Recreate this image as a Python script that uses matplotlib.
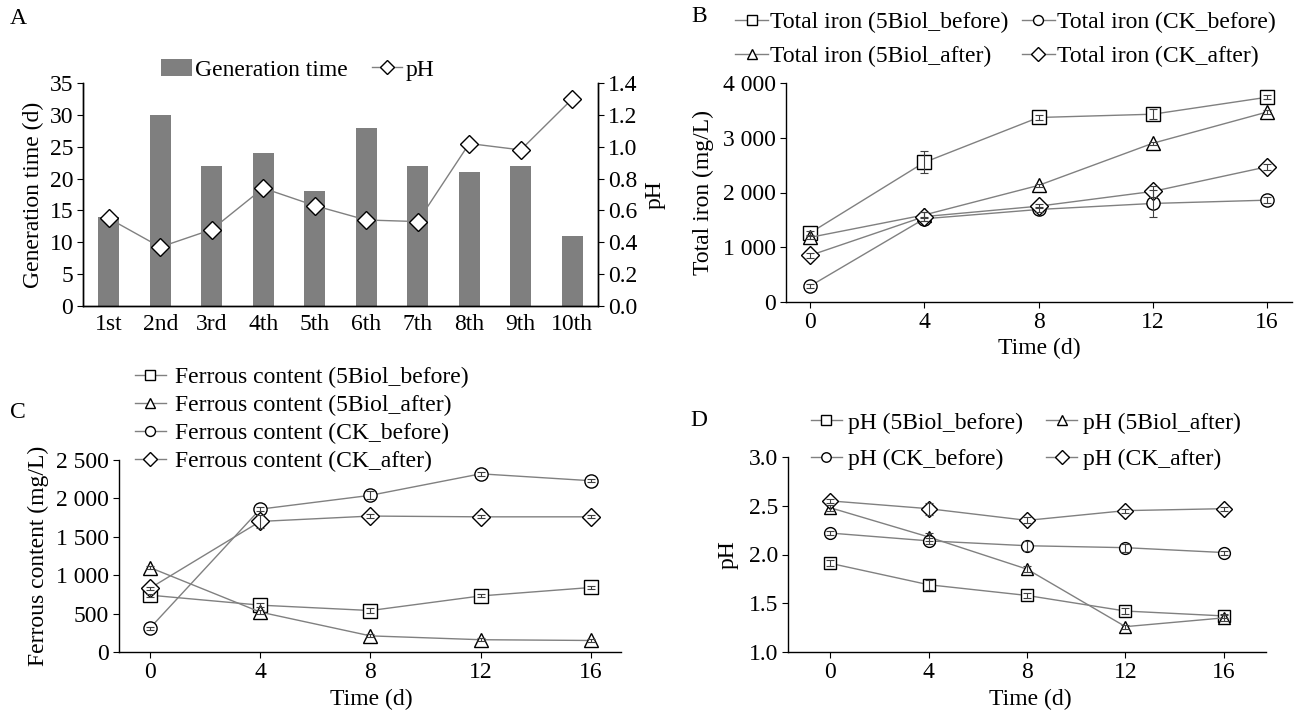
import numpy as np
import matplotlib.pyplot as plt
from matplotlib.patches import Patch
from matplotlib.lines import Line2D

plt.rcParams['font.family'] = ['Liberation Serif', 'DejaVu Serif']
plt.rcParams['font.size'] = 17
plt.rcParams['axes.linewidth'] = 1.0
plt.rcParams['xtick.direction'] = 'out'
plt.rcParams['ytick.direction'] = 'out'
plt.rcParams['xtick.major.size'] = 4
plt.rcParams['ytick.major.size'] = 4
plt.rcParams['xtick.major.pad'] = 3
plt.rcParams['ytick.major.pad'] = 3

# ---- panel A data
generations = ["1st", "2nd", "3rd", "4th", "5th", "6th", "7th", "8th", "9th", "10th"]
generation_time = [14, 30, 22, 24, 18, 28, 22, 21, 22, 11]
ph_generation = [0.55, 0.37, 0.48, 0.74, 0.63, 0.54, 0.53, 1.02, 0.98, 1.30]

# ---- shared time axis
days = [0, 4, 8, 12, 16]

# ---- panel B: total iron (mg/L)
fe_5biol_before = [1260, 2550, 3370, 3430, 3740]
fe_5biol_after = [1180, 1590, 2130, 2900, 3470]
fe_ck_before = [290, 1520, 1690, 1800, 1860]
fe_ck_after = [850, 1560, 1750, 2020, 2470]
fe_5biol_before_err = [40, 200, 40, 90, 40]
fe_5biol_after_err = [30, 50, 30, 30, 30]
fe_ck_before_err = [30, 40, 40, 250, 60]
fe_ck_after_err = [40, 80, 40, 100, 50]

# ---- panel C: ferrous content (mg/L)
fe2_5biol_before = [740, 610, 540, 730, 840]
fe2_5biol_after = [1100, 520, 210, 160, 150]
fe2_ck_before = [310, 1860, 2040, 2320, 2230]
fe2_ck_after = [830, 1700, 1770, 1760, 1760]
fe2_5biol_before_err = [20, 30, 30, 20, 20]
fe2_5biol_after_err = [20, 30, 20, 20, 20]
fe2_ck_before_err = [20, 30, 50, 30, 20]
fe2_ck_after_err = [20, 90, 30, 20, 20]

# ---- panel D: pH
ph_5biol_before = [1.91, 1.69, 1.58, 1.42, 1.37]
ph_5biol_after = [2.48, 2.18, 1.85, 1.26, 1.35]
ph_ck_before = [2.22, 2.14, 2.09, 2.07, 2.02]
ph_ck_after = [2.55, 2.47, 2.35, 2.45, 2.47]
ph_5biol_before_err = [0.03, 0.05, 0.03, 0.03, 0.02]
ph_5biol_after_err = [0.03, 0.04, 0.03, 0.02, 0.03]
ph_ck_before_err = [0.02, 0.03, 0.05, 0.04, 0.02]
ph_ck_after_err = [0.02, 0.06, 0.03, 0.02, 0.02]

W, H = 1294, 710
LINE = '#808080'
BAR = '#7f7f7f'


def px_axes(fig, left, top, right, bottom):
    return fig.add_axes([left / W, 1 - bottom / H, (right - left) / W, (bottom - top) / H])


def series(ax, y, err, marker, ms, label):
    ax.errorbar(days, y, yerr=err, fmt='none', ecolor='#404040', elinewidth=0.8,
                capsize=3, capthick=0.8, zorder=4)
    ax.plot(days, y, color=LINE, lw=1.0, marker=marker, ms=ms, mfc='white',
            mec='black', mew=1.0, label=label, zorder=3)


def style_time_axis(ax, xlim):
    ax.spines['top'].set_visible(False)
    ax.spines['right'].set_visible(False)
    ax.set_xlim(*xlim)
    ax.set_xticks(days)
    ax.set_xticklabels([str(d) for d in days])
    ax.set_xlabel("Time (d)")


fig = plt.figure(figsize=(W / 100, H / 100), dpi=100)

# ================= A
axA = px_axes(fig, 83, 83, 598, 306)
xa = np.arange(len(generations))
axA.bar(xa, generation_time, width=0.4, color=BAR, label="Generation time", zorder=2)
axA.set_xlim(-0.5, 9.5)
axA.set_ylim(0, 35)
axA.set_yticks(range(0, 36, 5))
axA.set_xticks(xa)
axA.set_xticklabels(generations)
axA.tick_params(axis='x', length=0, pad=6)
axA.spines['top'].set_visible(False)
axA.set_ylabel("Generation time (d)")
axA.yaxis.set_label_coords(-0.075, 0.5)

axA2 = axA.twinx()
axA2.plot(xa, ph_generation, color=LINE, lw=1.0, marker='D', ms=9, mfc='white',
          mec='black', mew=1.0, label="pH", zorder=3)
axA2.set_ylim(0, 1.4)
axA2.set_yticks(np.arange(0, 1.41, 0.2))
axA2.set_yticklabels([f"{v:.1f}" for v in np.arange(0, 1.41, 0.2)])
axA2.spines['top'].set_visible(False)
axA2.set_ylabel("pH")
axA2.yaxis.set_label_coords(1.091, 0.5)

handlesA = [Patch(facecolor=BAR, edgecolor='none'),
            Line2D([], [], color=LINE, lw=1.0, marker='D', ms=7, mfc='white', mec='black')]
fig.legend(handlesA, ["Generation time", "pH"], loc='upper left',
           bbox_to_anchor=(161 / W, 1 - 59 / H), ncol=2, frameon=False,
           borderpad=0, borderaxespad=0, handlelength=1.3, handletextpad=0.15,
           columnspacing=1.0)
fig.text(10 / W, 1 - 18 / H, "A", va='center', ha='left')

# ================= B
axB = px_axes(fig, 786, 83, 1292, 302)
series(axB, fe_5biol_before, fe_5biol_before_err, 's', 9.5, "Total iron (5Biol_before)")
series(axB, fe_5biol_after, fe_5biol_after_err, '^', 10, "Total iron (5Biol_after)")
series(axB, fe_ck_before, fe_ck_before_err, 'o', 9.5, "Total iron (CK_before)")
series(axB, fe_ck_after, fe_ck_after_err, 'D', 9, "Total iron (CK_after)")
style_time_axis(axB, (-0.84, 16.87))
axB.set_ylim(0, 4000)
axB.set_yticks([0, 1000, 2000, 3000, 4000])
axB.set_yticklabels(["0", "1 000", "2 000", "3 000", "4 000"])
axB.set_ylabel("Total iron (mg/L)")
axB.yaxis.set_label_coords(-0.143, 0.5)
axB.xaxis.set_label_coords(0.5, -0.165)
axB.legend(loc='upper left', bbox_to_anchor=(735 / W, 1 - 12 / H),
           bbox_transform=fig.transFigure, ncol=2, frameon=False, borderpad=0,
           borderaxespad=0, handlelength=1.4, handletextpad=0.1, columnspacing=0.55,
           labelspacing=0.52, markerscale=0.75)
fig.text(699 / W, 1 - 17 / H, "B", va='center', ha='center')

# ================= C
axC = px_axes(fig, 119, 460, 621, 652)
series(axC, fe2_5biol_before, fe2_5biol_before_err, 's', 9.5, "Ferrous content (5Biol_before)")
series(axC, fe2_5biol_after, fe2_5biol_after_err, '^', 10, "Ferrous content (5Biol_after)")
series(axC, fe2_ck_before, fe2_ck_before_err, 'o', 9.5, "Ferrous content (CK_before)")
series(axC, fe2_ck_after, fe2_ck_after_err, 'D', 9, "Ferrous content (CK_after)")
style_time_axis(axC, (-1.12, 17.09))
axC.set_ylim(0, 2500)
axC.set_yticks([0, 500, 1000, 1500, 2000, 2500])
axC.set_yticklabels(["0", "500", "1 000", "1 500", "2 000", "2 500"])
axC.set_ylabel("Ferrous content (mg/L)")
axC.yaxis.set_label_coords(-0.139, 0.5)
axC.xaxis.set_label_coords(0.502, -0.19)
axC.legend(loc='upper left', bbox_to_anchor=(135 / W, 1 - 367 / H),
           bbox_transform=fig.transFigure, ncol=1, frameon=False, borderpad=0,
           borderaxespad=0, handlelength=1.3, handletextpad=0.4,
           labelspacing=0.27, markerscale=0.75)
fig.text(10 / W, 1 - 413 / H, "C", va='center', ha='left')

# ================= D
axD = px_axes(fig, 788, 457, 1266, 652)
series(axD, ph_5biol_before, ph_5biol_before_err, 's', 8.5, "pH (5Biol_before)")
series(axD, ph_5biol_after, ph_5biol_after_err, '^', 9, "pH (5Biol_after)")
series(axD, ph_ck_before, ph_ck_before_err, 'o', 8.5, "pH (CK_before)")
series(axD, ph_ck_after, ph_ck_after_err, 'D', 8.5, "pH (CK_after)")
style_time_axis(axD, (-1.71, 17.71))
axD.set_ylim(1.0, 3.0)
d_ticks = np.arange(1.0, 3.01, 0.5)
axD.set_yticks(d_ticks)
axD.set_yticklabels([f"{v:.1f}" for v in d_ticks])
axD.set_ylabel("pH")
axD.yaxis.set_label_coords(-0.103, 0.5)
axD.xaxis.set_label_coords(0.506, -0.19)
h, l = axD.get_legend_handles_labels()
order = [0, 2, 1, 3]
axD.legend([h[i] for i in order], [l[i] for i in order], loc='upper left',
           bbox_to_anchor=(811 / W, 1 - 412 / H), bbox_transform=fig.transFigure,
           ncol=2, frameon=False, borderpad=0, borderaxespad=0, handlelength=1.3,
           handletextpad=0.25, columnspacing=1.0, labelspacing=0.65, markerscale=0.8)
fig.text(699 / W, 1 - 421 / H, "D", va='center', ha='center')

fig.savefig("out.png", dpi=100)
